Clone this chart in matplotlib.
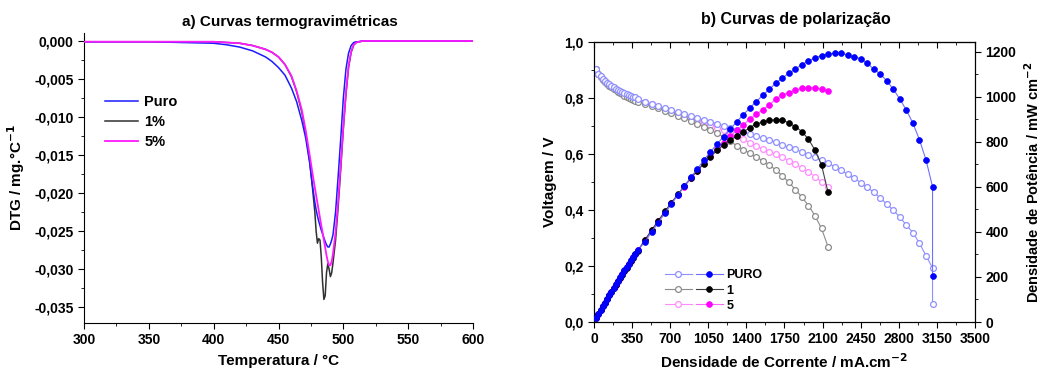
"""
DTG curves (a) and fuel-cell polarization curves (b), side by side.
Writes out.png (1041x372).
"""
import numpy as np
import matplotlib; matplotlib.use("Agg"); import matplotlib.pyplot as plt
from matplotlib.ticker import MultipleLocator, FuncFormatter
from matplotlib.legend_handler import HandlerTuple

plt.rcParams["font.family"] = ["Liberation Sans", "DejaVu Sans"]
plt.rcParams["font.weight"] = "bold"
plt.rcParams["axes.labelweight"] = "bold"

# ---- a) DTG curves -------------------------------------------------------
temp = [300, 325, 350, 375, 400, 410, 420, 430, 440, 445, 450, 455, 460, 464,
        468, 471, 474, 476, 478, 479, 480, 481, 482, 483, 484, 485, 486, 487,
        488, 489, 490, 491, 492, 494, 496, 498, 500, 502, 504, 506, 508, 510,
        512, 515, 520, 550, 600]
dtg_puro = [-0.0001, -0.0001, -0.0001, -0.0002, -0.0003, -0.0005, -0.0008,
            -0.0013, -0.0021, -0.0027, -0.0035, -0.0045, -0.0062, -0.0080,
            -0.0105, -0.0128, -0.0160, -0.0188, -0.0212, -0.0222, -0.0230,
            -0.0237, -0.0243, -0.0249, -0.0254, -0.0259, -0.0264, -0.0268,
            -0.0271, -0.0271, -0.0267, -0.0262, -0.0255, -0.0225, -0.0178,
            -0.0128, -0.0075, -0.0037, -0.0016, -0.0006, -0.0002, -0.0001,
            -0.0001, 0.0, 0.0, 0.0, 0.0]
dtg_1 = [-0.0001, -0.0001, -0.0001, -0.0001, -0.0001, -0.0002, -0.0003,
         -0.0006, -0.0011, -0.0015, -0.0021, -0.0031, -0.0047, -0.0067,
         -0.0094, -0.0122, -0.0158, -0.0190, -0.0225, -0.0250, -0.0266,
         -0.0260, -0.0262, -0.0285, -0.0318, -0.0340, -0.0335, -0.0305,
         -0.0293, -0.0300, -0.0310, -0.0305, -0.0292, -0.0262, -0.0218,
         -0.0168, -0.0115, -0.0070, -0.0035, -0.0015, -0.0005, -0.0002,
         -0.0001, 0.0, 0.0, 0.0, 0.0]
dtg_5 = [-0.0001, -0.0001, -0.0001, -0.0001, -0.0001, -0.0002, -0.0003,
         -0.0006, -0.0011, -0.0015, -0.0021, -0.0031, -0.0046, -0.0066,
         -0.0091, -0.0118, -0.0150, -0.0172, -0.0193, -0.0203, -0.0213,
         -0.0223, -0.0233, -0.0243, -0.0252, -0.0262, -0.0272, -0.0282,
         -0.0290, -0.0295, -0.0295, -0.0290, -0.0280, -0.0252, -0.0210,
         -0.0162, -0.0112, -0.0068, -0.0033, -0.0014, -0.0005, -0.0002,
         -0.0001, 0.0, 0.0, 0.0, 0.0]

# ---- b) polarization curves ---------------------------------------------
# current density grid (mA/cm2): dense start, then ~60 mA steps
cur = [20, 40, 60, 80, 100, 120, 140, 160, 180, 200, 220, 240, 260, 280, 300,
       320, 340, 360, 380, 400,
       470, 530, 590, 650, 710, 770, 830, 890, 950, 1010, 1070, 1130, 1190,
       1250, 1310, 1370, 1430, 1490, 1550, 1610, 1670, 1730, 1790, 1850, 1910,
       1970, 2030, 2090, 2150,
       2210, 2270, 2330, 2390, 2450, 2510, 2570, 2630, 2690, 2750, 2810, 2870,
       2930, 2990, 3050, 3110, 3110]
volt_puro = [0.902, 0.886, 0.877, 0.869, 0.862, 0.855, 0.849, 0.843, 0.838,
             0.833, 0.829, 0.825, 0.821, 0.817, 0.814, 0.811, 0.808, 0.805,
             0.802, 0.798,
             0.787, 0.780, 0.771, 0.764, 0.757, 0.750, 0.743, 0.736, 0.729,
             0.721, 0.715, 0.708, 0.701, 0.694, 0.687, 0.680, 0.671, 0.664,
             0.657, 0.650, 0.642, 0.632, 0.624, 0.617, 0.607, 0.598, 0.588,
             0.579, 0.567,
             0.555, 0.542, 0.527, 0.513, 0.498, 0.481, 0.463, 0.443, 0.421,
             0.399, 0.374, 0.346, 0.319, 0.281, 0.237, 0.193, 0.064]
pot_puro = [18, 35, 53, 70, 86, 103, 119, 135, 151, 167, 182, 198, 213, 229,
            244, 259, 274, 289, 304, 318,
            357, 401, 441, 483, 524, 564, 604, 643, 681, 720, 756, 790, 824,
            856, 889, 920, 950, 979, 1007, 1034, 1061, 1084, 1105, 1124, 1144,
            1160, 1173, 1184, 1190,
            1194, 1194, 1187, 1179, 1169, 1150, 1123, 1102, 1071, 1034, 990,
            941, 883, 809, 720, 601, 204]
n1 = 49    # samples 1 and 5 stop at 2150 mA/cm2
volt_1 = [0.902, 0.884, 0.874, 0.866, 0.858, 0.851, 0.844, 0.838, 0.832,
          0.827, 0.822, 0.817, 0.813, 0.808, 0.804, 0.800, 0.796, 0.792,
          0.789, 0.785,
          0.779, 0.771, 0.763, 0.755, 0.746, 0.737, 0.728, 0.718, 0.708,
          0.697, 0.686, 0.674, 0.661, 0.646, 0.630, 0.615, 0.604, 0.590,
          0.576, 0.561, 0.543, 0.522, 0.499, 0.473, 0.446, 0.416, 0.380,
          0.334, 0.269]
pot_1 = [18, 35, 52, 69, 86, 102, 118, 134, 150, 165, 181, 196, 211, 226,
         241, 256, 271, 285, 300, 314,
         366, 409, 450, 491, 530, 567, 604, 639, 673, 704, 734, 762, 787,
         808, 825, 843, 864, 879, 889, 896, 898, 898, 884, 868, 846, 812,
         764, 698, 576]
volt_5 = [0.902, 0.885, 0.876, 0.868, 0.861, 0.854, 0.848, 0.842, 0.836,
          0.831, 0.826, 0.822, 0.818, 0.814, 0.810, 0.807, 0.804, 0.801,
          0.798, 0.794,
          0.785, 0.777, 0.769, 0.761, 0.753, 0.745, 0.737, 0.729, 0.721,
          0.712, 0.703, 0.694, 0.685, 0.675, 0.664, 0.652, 0.640, 0.629,
          0.618, 0.608, 0.599, 0.589, 0.576, 0.563, 0.550, 0.537, 0.519,
          0.501, 0.483]
pot_5 = [18, 35, 53, 69, 86, 102, 119, 135, 150, 166, 182, 197, 213, 228,
         243, 258, 273, 288, 303, 318,
         365, 407, 448, 488, 527, 565, 602, 638, 672, 705, 737, 768, 797,
         825, 851, 876, 900, 922, 944, 964, 990, 1009, 1019, 1031, 1038,
         1041, 1041, 1036, 1028]


def comma(fmt):
    return FuncFormatter(lambda v, p: (fmt % v).replace(".", ",").replace("-0,000", "0,000"))


fig = plt.figure(figsize=(10.41, 3.72), dpi=100)

# ---------------- a) ----------------
a = fig.add_axes([0.0807, 0.1317, 0.3737, 0.7796])
a.plot(temp, dtg_puro, color="#1a1aff", lw=1.1, label="Puro", zorder=3)
a.plot(temp, dtg_1, color="#303030", lw=1.1, label="1%", zorder=2)
a.plot(temp, dtg_5, color="#ff1aff", lw=1.3, label="5%", zorder=4)
a.set_xlim(300, 600); a.set_ylim(-0.0371, 0.00105)
a.xaxis.set_major_locator(MultipleLocator(50)); a.xaxis.set_minor_locator(MultipleLocator(25))
a.yaxis.set_major_locator(MultipleLocator(0.005)); a.yaxis.set_minor_locator(MultipleLocator(0.0025))
a.yaxis.set_major_formatter(comma("%.3f"))
for s in ("top", "right"):
    a.spines[s].set_visible(False)
a.tick_params(which="both", direction="out", labelsize=10)
a.tick_params(which="major", length=4); a.tick_params(which="minor", length=2)
a.set_xlabel("Temperatura / °C", fontsize=11, labelpad=5)
a.set_ylabel("DTG / mg.°C$^{\\mathbf{-1}}$", fontsize=11, labelpad=5)
a.set_title("a) Curvas termogravimétricas", fontsize=11, fontweight="bold", x=0.53, pad=5)
a.legend(loc="upper left", bbox_to_anchor=(0.035, 0.81), frameon=False, fontsize=10.5,
         handlelength=2.3, handletextpad=0.4, labelspacing=0.4, borderpad=0)

# ---------------- b) ----------------
b = fig.add_axes([0.5706, 0.1344, 0.366, 0.7527])
b2 = b.twinx()
styles = [("PURO", cur, volt_puro, pot_puro, "#8f8fff", "#0000ff", "#6f6fff"),
          ("1", cur[:n1], volt_1, pot_1, "#8c8c8c", "#000000", "#404040"),
          ("5", cur[:n1], volt_5, pot_5, "#ff8cff", "#ff00ff", "#ff66ff")]
handles = []
for k, (lbl, x, v, p, c_open, c_fill, c_line) in enumerate(styles):
    z = 5 if k == 0 else 3 - k      # PURO drawn on top
    ho, = b.plot(x, v, "-o", color=c_open, lw=0.8, ms=4.2, mfc="white",
                 mec=c_open, mew=0.9, zorder=z)
    hf, = b2.plot(x, p, "-o", color=c_line, lw=0.8, ms=4.2, mfc=c_fill,
                  mec=c_fill, mew=0.5, zorder=z)
    handles.append(((ho, hf), lbl))
b.set_xlim(0, 3500); b.set_ylim(0, 1.0); b2.set_ylim(0, 1244)
b.xaxis.set_major_locator(MultipleLocator(350)); b.xaxis.set_minor_locator(MultipleLocator(175))
b.yaxis.set_major_locator(MultipleLocator(0.2)); b.yaxis.set_minor_locator(MultipleLocator(0.1))
b.yaxis.set_major_formatter(comma("%.1f"))
b2.yaxis.set_major_locator(MultipleLocator(200)); b2.yaxis.set_minor_locator(MultipleLocator(100))
for ax in (b, b2):
    ax.tick_params(which="both", direction="out", labelsize=10)
    ax.tick_params(which="major", length=4); ax.tick_params(which="minor", length=2)
top = b.secondary_xaxis("top")
top.xaxis.set_major_locator(MultipleLocator(350)); top.xaxis.set_minor_locator(MultipleLocator(175))
top.tick_params(which="both", direction="in", labeltop=False)
top.tick_params(which="major", length=4); top.tick_params(which="minor", length=2)
b.set_xlabel("Densidade de Corrente / mA.cm$^{\\mathbf{-2}}$", fontsize=11, labelpad=4)
b.set_ylabel("Voltagem / V", fontsize=11, labelpad=5)
b2.set_ylabel("Densidade de Potência / mW cm$^{\\mathbf{-2}}$", fontsize=10.5, labelpad=5)
b.set_title("b) Curvas de polarização", fontsize=11.5, fontweight="bold", x=0.53, pad=13)
b2.legend([h for h, _ in handles], [l for _, l in handles],
          handler_map={tuple: HandlerTuple(ndivide=None, pad=0.3)},
          loc="upper left", bbox_to_anchor=(0.17, 0.21), frameon=False,
          fontsize=9, handlelength=4.6, handletextpad=0.3, labelspacing=0.25,
          borderpad=0)

fig.savefig("out.png", dpi=100)
